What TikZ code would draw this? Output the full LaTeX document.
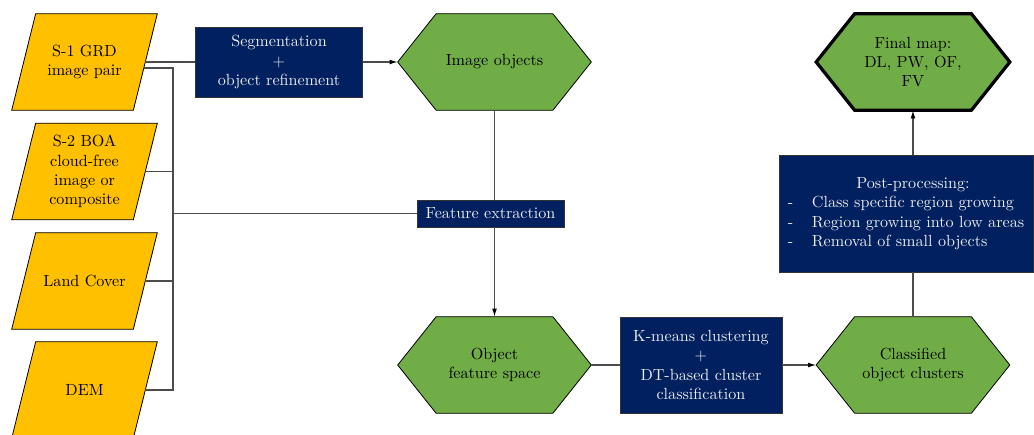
\documentclass[tikz,border=0pt]{standalone}
\usetikzlibrary{calc,backgrounds,arrows.meta}
\newdimen\pxu \pxu=0.62pt
\definecolor{ylw}{HTML}{FFC000}
\definecolor{grn}{HTML}{70AD47}
\definecolor{navyb}{HTML}{002060}
\begin{document}
\begin{tikzpicture}[x=0.62pt,y=-0.62pt,
  datain/.style={minimum width=121\pxu, minimum height=96\pxu, inner sep=0pt, align=center},
  hexa/.style={minimum width=193\pxu, minimum height=96\pxu, inner sep=0pt, align=center},
  procbox/.style={fill=navyb, draw=black!80, line width=0.5pt, text=white!92!black, align=center, inner sep=0pt},
  conn/.style={draw=black!70, line width=0.7pt},
  arr/.style={conn, -{Latex[length=5pt,width=3pt,color=black]}}]
\useasboundingbox (0,0) rectangle (1034,435);

\node[datain] (s1) at (84.5,62) {S-1 GRD\\image pair};
\node[datain] (s2) at (84.5,171.5) {S-2 BOA\\cloud-free\\image or\\composite};
\node[datain] (lc) at (84.5,281) {Land Cover};
\node[datain] (dem) at (84.5,390) {DEM};
\node[procbox, minimum width=167\pxu, minimum height=70\pxu] (seg) at (279,62) {Segmentation\\+\\object refinement};
\node[hexa] (io) at (494.5,62) {Image objects};
\node[procbox, minimum width=147\pxu, minimum height=27\pxu] (fe) at (490.5,213.5) {Feature extraction};
\node[hexa] (ofs) at (494.5,365) {Object\\feature space};
\node[procbox, minimum width=162\pxu, minimum height=96\pxu] (km) at (701,365) {K-means clustering\\+\\DT-based cluster\\classification};
\node[hexa] (coc) at (913,365) {Classified\\object clusters};
\node[procbox, minimum width=254\pxu, minimum height=117\pxu] (pp) at (906,213.5) {\begin{tabular}{@{}p{14.9pt}@{}l@{}}\multicolumn{2}{c}{\hspace{14\pxu}Post-processing:}\\-&Class specific region growing\\-&Region growing into low areas\\-&Removal of small objects\end{tabular}};
\node[hexa] (fm) at (913,62) {Final map:\\DL, PW, OF,\\FV};

\begin{scope}[on background layer]
\foreach \n in {s1,s2,lc,dem}
  \draw[fill=ylw, draw=black, line width=0.5pt] ($(\n.north west)+(12,0)$) -- ($(\n.north east)+(12,0)$) -- ($(\n.south east)+(-12,0)$) -- ($(\n.south west)+(-12,0)$) -- cycle;
\foreach \n/\w in {io/0.5pt, ofs/0.5pt, coc/0.5pt, fm/2pt}
  \draw[fill=grn, draw=black, line width=\w, line join=miter] (\n.west) -- ($(\n.north west)+(38.5,0)$) -- ($(\n.north east)+(-38.5,0)$) -- (\n.east) -- ($(\n.south east)+(-38.5,0)$) -- ($(\n.south west)+(38.5,0)$) -- cycle;
\end{scope}

\coordinate (t1) at (173,68);
\coordinate (s1o) at ($(s1.east)+(-1.5,6)$);
\draw[conn] (s1o) -- (t1) |- (dem.east);
\draw[conn] (s2.east) -- (s2.east -| t1);
\draw[conn] (lc.east) -- (lc.east -| t1);
\draw[conn] (fe.west -| t1) -- (fe.west);
\draw[conn] (s1.east) -- (seg.west);
\draw[arr] (seg.east) -- (io.west);
\draw[conn] (io.south) -- (io.south |- fe.north);
\draw[arr] (ofs.north |- fe.south) -- (ofs.north);
\draw[conn] (ofs.east) -- (km.west);
\draw[arr] (km.east) -- (coc.west);
\draw[conn] (coc.north) -- (coc.north |- pp.south);
\draw[arr] (fm.south |- pp.north) -- (fm.south);
\end{tikzpicture}
\end{document}
